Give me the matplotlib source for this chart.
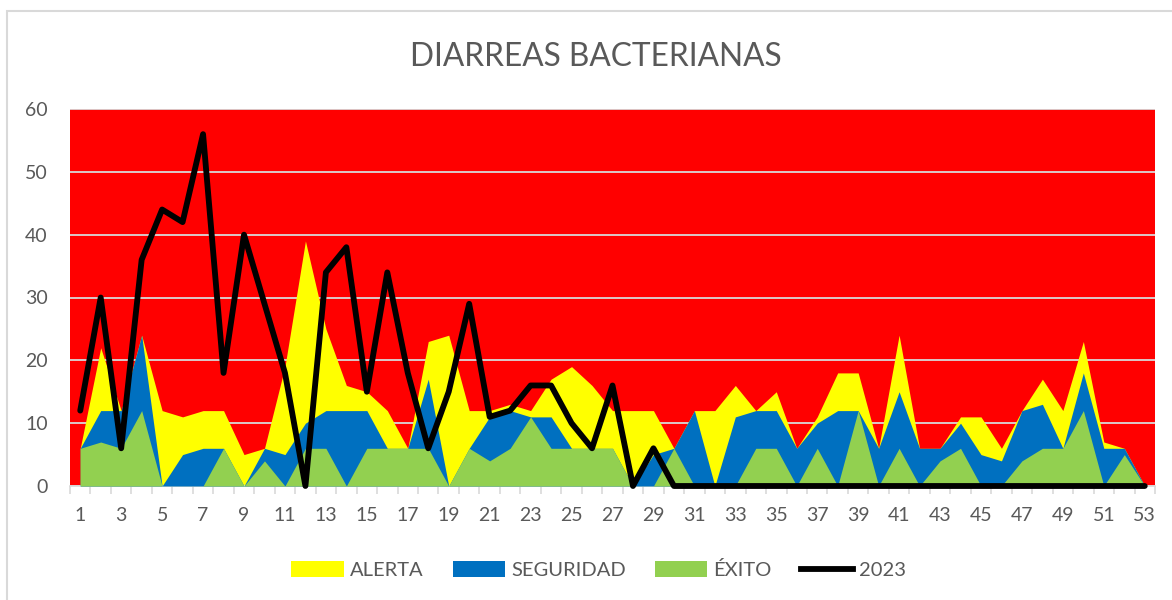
"""Diarreas bacterianas: canal endemico con semanas 2023."""
import matplotlib.pyplot as plt
import numpy as np
from matplotlib.lines import Line2D
from matplotlib.patches import Patch, Rectangle

plt.rcParams["font.family"] = ["Lato", "DejaVu Sans"]

semanas = np.arange(1, 54)

alerta = [6, 22, 12, 24, 12, 11, 12, 12, 5, 6, 19, 39, 25, 16, 15, 12, 6, 23, 24, 12,
          12, 13, 12, 17, 19, 16, 12, 12, 12, 6, 12, 12, 16, 12, 15, 6, 11, 18, 18, 6,
          24, 6, 6, 11, 11, 6, 12, 17, 12, 23, 7, 6, 0]
seguridad = [6, 12, 12, 24, 0, 5, 6, 6, 0, 6, 5, 10, 12, 12, 12, 6, 6, 17, 0, 6,
             11, 12, 11, 11, 6, 6, 6, 0, 5, 6, 12, 0, 11, 12, 12, 6, 10, 12, 12, 6,
             15, 6, 6, 10, 5, 4, 12, 13, 6, 18, 6, 6, 0]
exito = [6, 7, 6, 12, 0, 0, 0, 6, 0, 4, 0, 6, 6, 0, 6, 6, 6, 6, 0, 6,
         4, 6, 11, 6, 6, 6, 6, 0, 0, 6, 0, 0, 0, 6, 6, 0, 6, 0, 12, 0,
         6, 0, 4, 6, 0, 0, 4, 6, 6, 12, 0, 5, 0]
casos_2023 = [12, 30, 6, 36, 44, 42, 56, 18, 40, 29, 18, 0, 34, 38, 15, 34, 18, 6, 15, 29,
              11, 12, 16, 16, 10, 6, 16, 0, 6, 0, 0, 0, 0, 0, 0, 0, 0, 0, 0, 0,
              0, 0, 0, 0, 0, 0, 0, 0, 0, 0, 0, 0, 0]

c_alerta = "#FFFF00"
c_seguridad = "#0070C0"
c_exito = "#92D050"
gris = "#595959"

fig = plt.figure(figsize=(11.72, 6.0), dpi=100)
ax = fig.add_axes([70 / 1172, 114 / 600, 1085 / 1172, 377 / 600])

# fondo rojo = zona de epidemia
ax.set_facecolor("#FF0000")
ax.fill_between(semanas, alerta, color=c_alerta, lw=0, zorder=2)
ax.fill_between(semanas, seguridad, color=c_seguridad, lw=0, zorder=3)
ax.fill_between(semanas, exito, color=c_exito, lw=0, zorder=4)
ax.plot(semanas, casos_2023, color="black", lw=4.2, zorder=5, clip_on=False,
        solid_capstyle="round")

ax.set_xlim(0.5, 53.5)
ax.set_ylim(0, 60)
ax.set_yticks(range(0, 61, 10))
ax.yaxis.grid(True, color="#D9D9D9", lw=1.3, zorder=1)
ax.set_axisbelow(True)

ax.set_xticks(range(1, 54, 2))
ax.set_xticks(np.arange(0.5, 54, 1), minor=True)
ax.tick_params(axis="x", which="major", length=0, pad=15, labelsize=14,
               labelcolor=gris)
ax.tick_params(axis="x", which="minor", length=6, color="#D9D9D9", width=1.2)
ax.tick_params(axis="y", length=0, pad=16, labelsize=14, labelcolor=gris)

for side in ["top", "right", "left"]:
    ax.spines[side].set_visible(False)
ax.spines["bottom"].set_color("#D9D9D9")
ax.spines["bottom"].set_linewidth(1.2)

fig.text(0.5085, 1 - 57 / 600, "DIARREAS BACTERIANAS", ha="center", va="center",
         fontsize=22.8, color=gris)

handles = [
    Patch(facecolor=c_alerta, label="ALERTA"),
    Patch(facecolor=c_seguridad, label="SEGURIDAD"),
    Patch(facecolor=c_exito, label="ÉXITO"),
    Line2D([0], [0], color="black", lw=4.2, label="2023"),
]
fig.legend(handles=handles, loc="center", bbox_to_anchor=(0.511, 1 - 570 / 600),
           ncol=4, frameon=False, fontsize=14.5, handlelength=2.6, handleheight=0.85,
           handletextpad=0.3, columnspacing=1.45, labelcolor=gris)

# borde del grafico
fig.patches.append(Rectangle((7 / 1172, -0.05), 1.1, 1 - 11 / 600 + 0.05,
                             transform=fig.transFigure, fill=False,
                             edgecolor="#D9D9D9", lw=1.5))

fig.savefig("out.png", dpi=100)
